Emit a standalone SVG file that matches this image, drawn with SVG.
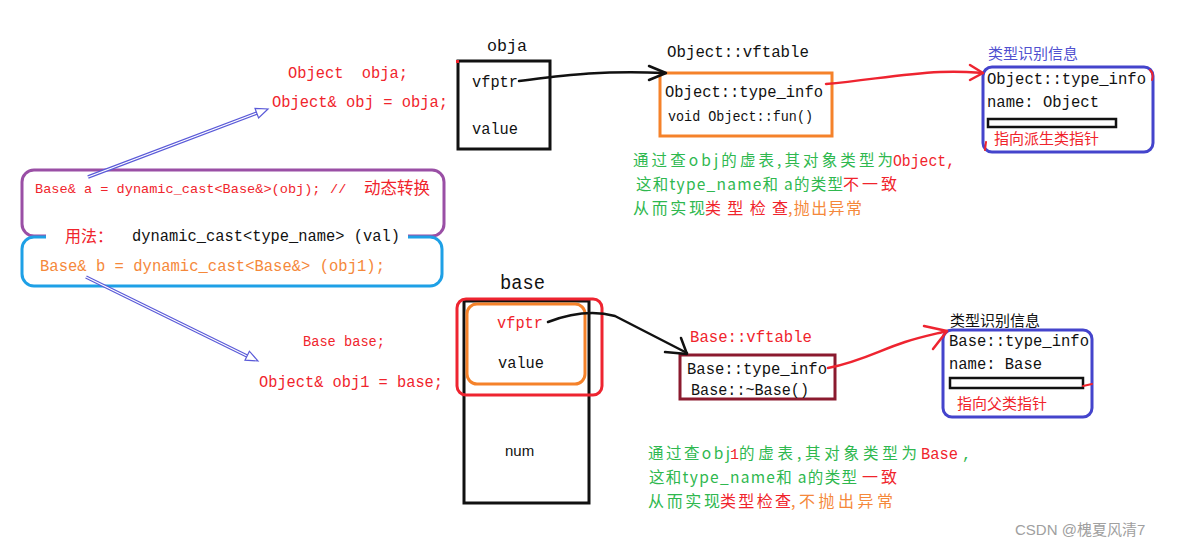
<svg xmlns="http://www.w3.org/2000/svg" width="1189" height="547" viewBox="0 0 1189 547">
<style>
.m{font-family:"Liberation Mono","Noto Sans CJK SC",monospace;white-space:pre}
.c{font-family:"Noto Sans CJK SC",sans-serif}
.s{font-family:"Liberation Sans","Noto Sans CJK SC",sans-serif}
.red{fill:#f0242c}.blk{fill:#111}.grn{fill:#2fb84f}.org{fill:#f5883a}.blu{fill:#5050d0}
.box{fill:none;stroke:#111;stroke-width:3}
.ln{fill:none;stroke-linecap:round;stroke-linejoin:round}
</style>
<rect width="1189" height="547" fill="#fff"/>

<g id="code-top">
<text class="m red" x="288" y="78" font-size="16.5" textLength="120" lengthAdjust="spacingAndGlyphs">Object  obja;</text>
<text class="m red" x="272" y="107" font-size="16.5" textLength="176" lengthAdjust="spacingAndGlyphs">Object&amp; obj = obja;</text>
</g>

<g id="usage-box">
<rect x="22" y="170" width="422" height="66" rx="12" fill="none" stroke="#9a4fa5" stroke-width="3"/>
<rect x="22" y="237" width="420" height="49" rx="12" fill="none" stroke="#1ea0e6" stroke-width="3"/>
<rect x="46" y="226" width="362" height="20" fill="#fff"/>
<text class="m red" x="35" y="193" font-size="13.6">Base&amp; a = dynamic_cast&lt;Base&amp;&gt;(obj);<tspan x="330">//</tspan><tspan class="c" x="364" dy="1" font-size="16.5">动态转换</tspan></text>
<text class="c red" x="65" y="242" font-size="16">用法：</text>
<text class="m blk" x="132" y="241" font-size="16.5" textLength="268" lengthAdjust="spacingAndGlyphs">dynamic_cast&lt;type_name&gt; (val)</text>
<text class="m org" x="40" y="271" font-size="16.5" textLength="345" lengthAdjust="spacingAndGlyphs">Base&amp; b = dynamic_cast&lt;Base&amp;&gt; (obj1);</text>
</g>

<g id="code-bottom">
<text class="m red" x="303" y="346" font-size="14.5" textLength="82" lengthAdjust="spacingAndGlyphs">Base base;</text>
<text class="m red" x="259" y="387" font-size="16.5" textLength="184" lengthAdjust="spacingAndGlyphs">Object&amp; obj1 = base;</text>
</g>

<g id="obja">
<text class="m blk" x="487" y="51" font-size="16.5" textLength="40" lengthAdjust="spacingAndGlyphs">obja</text>
<rect class="box" x="458" y="61" width="92" height="88"/>
<rect x="456" y="60" width="3" height="3" fill="#f0242c"/>
<text class="m blk" x="472" y="87" font-size="16.5" textLength="46" lengthAdjust="spacingAndGlyphs">vfptr</text>
<text class="m blk" x="472" y="134" font-size="16.5" textLength="46" lengthAdjust="spacingAndGlyphs">value</text>
</g>

<g id="object-vftable">
<text class="m blk" x="667" y="57" font-size="16.5" textLength="142" lengthAdjust="spacingAndGlyphs">Object::vftable</text>
<rect x="660" y="73" width="172" height="63" fill="none" stroke="#f5822a" stroke-width="3"/>
<text class="m blk" x="665" y="97" font-size="16.5" textLength="158" lengthAdjust="spacingAndGlyphs">Object::type_info</text>
<text class="m blk" x="668" y="121" font-size="14.5" textLength="145" lengthAdjust="spacingAndGlyphs">void Object::fun()</text>
</g>

<g id="object-typeinfo">
<text class="c blu" x="988" y="59" font-size="15">类型识别信息</text>
<rect x="983" y="67" width="170" height="85" rx="9" fill="none" stroke="#4444cc" stroke-width="3"/>
<text class="m blk" x="987" y="84" font-size="16.5" textLength="159" lengthAdjust="spacingAndGlyphs">Object::type_info</text>
<text class="m blk" x="987" y="107" font-size="16.5" textLength="112" lengthAdjust="spacingAndGlyphs">name: Object</text>
<rect x="988" y="119" width="128" height="8" fill="#fff" stroke="#111" stroke-width="2.5"/>
<text class="c red" x="994" y="144" font-size="15">指向派生类指针</text>
<path class="ln" d="M1150,70 Q1154,74 1152,80" stroke="#f0242c" stroke-width="2"/>
<path class="ln" d="M986,142 L985,150" stroke="#f0242c" stroke-width="2"/>
</g>

<g id="text-fail">
<text class="c grn" x="633" y="166" font-size="15.5" textLength="260">通过查obj的虚表,其对象类型为</text>
<text class="m red" x="893" y="166" font-size="16.5" textLength="62" lengthAdjust="spacingAndGlyphs">Object,</text>
<text class="c grn" x="636" y="190" font-size="15.5" textLength="207">这和type_name和 a的类型</text>
<text class="c red" x="843" y="190" font-size="16" textLength="54">不一致</text>
<text class="c grn" x="633" y="214" font-size="16" textLength="72">从而实现</text>
<text class="c red" x="705" y="214" font-size="16" textLength="83">类型检查</text>
<text class="c org" x="788" y="214" font-size="16" textLength="74">,抛出异常</text>
</g>

<g id="base">
<text class="m blk" x="500" y="289" font-size="19.5" textLength="45" lengthAdjust="spacingAndGlyphs">base</text>
<rect class="box" x="464" y="301" width="125" height="202"/>
<rect x="457" y="299" width="145" height="96" rx="9" fill="none" stroke="#ee2430" stroke-width="3"/>
<rect x="467" y="304" width="118" height="80" rx="10" fill="none" stroke="#f5822a" stroke-width="3"/>
<text class="m red" x="497" y="328" font-size="16.5" textLength="46" lengthAdjust="spacingAndGlyphs">vfptr</text>
<text class="m blk" x="498" y="368" font-size="16.5" textLength="46" lengthAdjust="spacingAndGlyphs">value</text>
<text class="s blk" x="505" y="456" font-size="15">num</text>
</g>

<g id="base-vftable">
<text class="m red" x="690" y="342" font-size="16.5" textLength="122" lengthAdjust="spacingAndGlyphs">Base::vftable</text>
<rect x="680" y="355" width="155" height="44" fill="none" stroke="#8b1a2e" stroke-width="3"/>
<text class="m blk" x="687" y="374" font-size="16.5" textLength="140" lengthAdjust="spacingAndGlyphs">Base::type_info</text>
<text class="m blk" x="691" y="395" font-size="16.5" textLength="118" lengthAdjust="spacingAndGlyphs">Base::~Base()</text>
</g>

<g id="base-typeinfo">
<text class="c blk" x="950" y="326" font-size="15">类型识别信息</text>
<rect x="943" y="330" width="149" height="87" rx="9" fill="none" stroke="#4444cc" stroke-width="3"/>
<text class="m blk" x="949" y="346" font-size="16.5" textLength="140" lengthAdjust="spacingAndGlyphs">Base::type_info</text>
<text class="m blk" x="949" y="369" font-size="16.5" textLength="93" lengthAdjust="spacingAndGlyphs">name: Base</text>
<rect x="950" y="378" width="133" height="10" fill="#fff" stroke="#111" stroke-width="2.5"/>
<path class="ln" d="M1083,386 L1092,384" stroke="#f0242c" stroke-width="2"/>
<text class="c red" x="957" y="409" font-size="15">指向父类指针</text>
</g>

<g id="text-ok">
<text class="c grn" x="648" y="459" font-size="15.5" textLength="82">通过查obj</text>
<text class="m red" x="730" y="459" font-size="15">1</text>
<text class="c grn" x="739" y="459" font-size="15.5" textLength="178">的虚表,其对象类型为</text>
<text class="m red" x="921" y="459" font-size="16.5" textLength="37" lengthAdjust="spacingAndGlyphs">Base</text>
<text class="m grn" x="962" y="459" font-size="15.4">,</text>
<text class="c grn" x="649" y="483" font-size="15.5" textLength="208">这和type_name和 a的类型</text>
<text class="c red" x="862" y="483" font-size="16" textLength="35">一致</text>
<text class="c grn" x="648" y="507" font-size="16" textLength="72">从而实现</text>
<text class="c red" x="720" y="507" font-size="16" textLength="71">类型检查</text>
<text class="c org" x="791" y="507" font-size="16" textLength="102">,不抛出异常</text>
</g>

<g id="connectors">
<line x1="88" y1="177" x2="257" y2="113" stroke="#5a5ad8" stroke-width="3.5"/>
<line x1="88" y1="177" x2="257" y2="113" stroke="#fff" stroke-width="1.2"/>
<polygon points="268,109 258.6,117.9 255.0,108.5" fill="#fff" stroke="#5a5ad8" stroke-width="1.2"/>
<line x1="86" y1="277" x2="247" y2="356" stroke="#5a5ad8" stroke-width="3.5"/>
<line x1="86" y1="277" x2="247" y2="356" stroke="#fff" stroke-width="1.2"/>
<polygon points="258,361 245.0,360.2 249.4,351.2" fill="#fff" stroke="#5a5ad8" stroke-width="1.2"/>

<path class="ln" d="M519,81 C560,76 600,70 664,73" stroke="#111" stroke-width="2.5"/>
<path class="ln" d="M649,66 L666,73 L649,80" stroke="#111" stroke-width="2.5"/>

<path class="ln" d="M826,84 C870,80 900,74 940,72 C960,71 970,72 982,73" stroke="#ee2430" stroke-width="2.5"/>
<path class="ln" d="M970,65 L983,73 L970,80" stroke="#ee2430" stroke-width="2.5"/>

<path class="ln" d="M548,322 Q585,308 615,316 L687,353" stroke="#111" stroke-width="2.5"/>
<path class="ln" d="M665,352 L687,354 L681,338" stroke="#111" stroke-width="2.5"/>

<path class="ln" d="M828,368 C860,362 880,350 905,342 C920,337 935,334 947,331" stroke="#ee2430" stroke-width="2.5"/>
<path class="ln" d="M924,326 L947,331 L933,349" stroke="#ee2430" stroke-width="2.5"/>
</g>

<text class="s" x="1015" y="535" font-size="15" fill="#a0a0a0">CSDN @槐夏风清7</text>
</svg>
